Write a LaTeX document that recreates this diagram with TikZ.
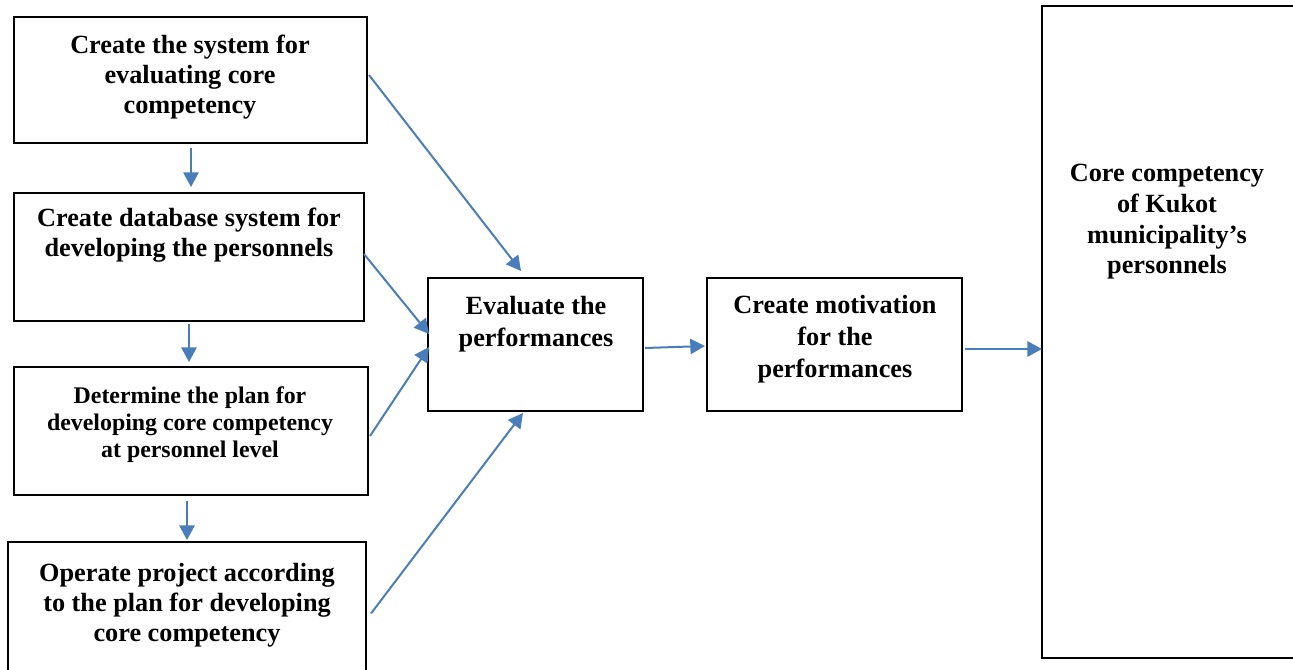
\documentclass[tikz,border=0pt]{standalone}
\usepackage{fontspec}
\setmainfont{Liberation Serif}
\usetikzlibrary{arrows.meta,calc,fit}
\definecolor{arrblue}{RGB}{74,126,187}
\tikzset{
 box/.style={draw=black,line width=1.5pt,inner sep=0pt,rectangle},
 lbl/.style={align=center,font=\bfseries\fontsize{19.7}{22.5}\selectfont,inner sep=0pt},
 lblsmall/.style={align=center,font=\bfseries\fontsize{17.9}{20.25}\selectfont,inner sep=0pt},
 lblwide/.style={align=center,font=\bfseries\fontsize{19.7}{24}\selectfont,inner sep=0pt},
 lblcore/.style={align=center,font=\bfseries\fontsize{19.7}{23}\selectfont,inner sep=0pt},
 arr/.style={draw=arrblue,line width=1.5pt,-{Triangle[length=11pt,width=11.5pt]}},
}
\begin{document}
\begin{tikzpicture}[x=0.75pt,y=-0.75pt]
\useasboundingbox (0,0) rectangle (1293,669);
\clip (0,0) rectangle (1293,669);
\fill[white] (0,0) rectangle (1293,669);
% boxes
\node[box,fit={(14,17) (367,143)}] (b1) {};
\node[box,fit={(14,193) (364,321)}] (b2) {};
\node[box,fit={(14,367) (368,495)}] (b3) {};
\node[box,fit={(8,542) (366,675)}] (b4) {};
\node[box,fit={(428,278) (643,411)}] (ev) {};
\node[box,fit={(707,278) (962,411)}] (mot) {};
\node[box,fit={(1042,6) (1305,658)}] (core) {};
% texts
\node[lbl] (t1) at (190,77.5) {Create the system for\\evaluating core\\competency};
\node[lbl] (t2) at (189,235.5) {Create database system for\\developing the personnels};
\node[lblsmall] (t3) at (190,425) {Determine the plan for\\developing core competency\\at personnel level};
\node[lbl] (t4) at (187,605) {Operate project according\\to the plan for developing\\core competency};
\node[lblwide] (tev) at (536,324) {Evaluate the\\performances};
\node[lblwide] (tmot) at (835,339.5) {Create motivation\\for the\\performances};
\node[lblcore] (tcore) at (1167,222) {Core competency\\of Kukot\\municipality’s\\personnels};
% vertical arrows
\draw[arr] ($(b1.south)+(0.5,4)$) -- ($(b2.north)+(2,-5)$);
\draw[arr] ($(b2.south)+(0,2)$) -- ($(b3.north)+(-2,-4)$);
\draw[arr] ($(b3.south)+(-4,5)$) -- ($(b4.north)+(0,-1)$);
% diagonal arrows
\draw[arr] ($(b1.east)+(1,-5)$) -- ($(ev.north)+(-14.5,-6)$);
\draw[arr] ($(b2.east)+(-1,-3)$) -- ($(ev.west)+(2,-10.5)$);
\draw[arr] ($(b3.east)+(1,5)$) -- ($(ev.west)+(2,2.5)$);
\draw[arr] ($(b4.east)+(4,5)$) -- ($(ev.south)+(-12.5,1)$);
% horizontal arrows
\draw[arr] ($(ev.east)+(1,3.5)$) -- ($(mot.west)+(-1,1.5)$);
\draw[arr] ($(mot.east)+(2,4.5)$) -- ($(core.west)+(1,17)$);
\end{tikzpicture}
\end{document}
